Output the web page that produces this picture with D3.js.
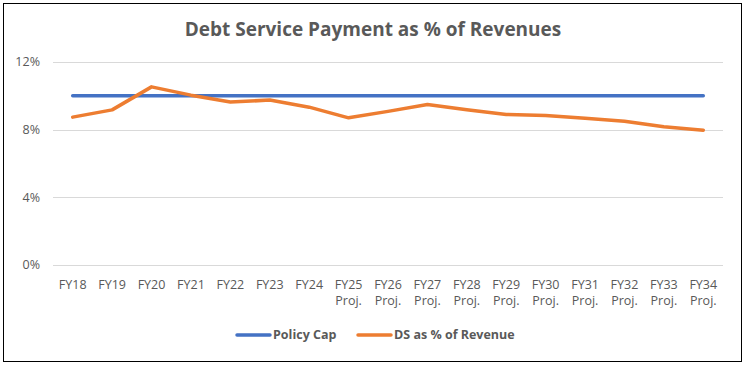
<!DOCTYPE html>
<html>
<head>
<meta charset="utf-8">
<script src="https://cdn.jsdelivr.net/npm/d3@7"></script>
<style>
  body { margin: 0; background: #fff; }
  text { font-family: "Open Sans", sans-serif; }
</style>
</head>
<body>
<div id="chart"></div>
<script>
let years = ["FY18","FY19","FY20","FY21","FY22","FY23","FY24","FY25","FY26","FY27","FY28","FY29","FY30","FY31","FY32","FY33","FY34"];
let projected = [false,false,false,false,false,false,false,true,true,true,true,true,true,true,true,true,true];
let policyCap = [10,10,10,10,10,10,10,10,10,10,10,10,10,10,10,10,10];
let dsRevenue = [8.74,9.17,10.53,10.04,9.63,9.75,9.33,8.70,9.08,9.49,9.18,8.90,8.84,8.68,8.50,8.17,7.97];
let yTicks = [0,4,8,12];

function config(){
    let width = 745, height = 365;
    let margin = { top: 62, left: 53, right: 22, bottom: 100 };
    let bodyWidth = width - margin.left - margin.right;
    let bodyHeight = 265 - margin.top;
    let svg = d3.select("#chart").append("svg")
        .attr("width", width).attr("height", height);
    svg.append("rect")
        .attr("x", 3.5).attr("y", 3.5)
        .attr("width", 738).attr("height", 358)
        .attr("fill", "#fff").attr("stroke", "#000").attr("stroke-width", 1);
    let container = svg.append("g")
        .attr("transform", "translate(" + [margin.left, margin.top] + ")");
    return { width, height, margin, bodyWidth, bodyHeight, svg, container };
}

function scales(cfg){
    let xScale = d3.scaleBand().domain(years).range([0, cfg.bodyWidth]);
    let yScale = d3.scaleLinear().domain([0, 12]).range([cfg.bodyHeight, 0]);
    return { xScale, yScale };
}

function draw(cfg, sc){
    let { container, bodyWidth, bodyHeight, svg } = cfg;
    let { xScale, yScale } = sc;

    // grid
    container.append("g")
        .selectAll("line").data(yTicks).enter().append("line")
        .attr("x1", 0).attr("x2", bodyWidth)
        .attr("y1", d => Math.round(yScale(d)) + 0.5)
        .attr("y2", d => Math.round(yScale(d)) + 0.5)
        .attr("stroke", "#d9d9d9").attr("stroke-width", 1);

    // y labels
    container.append("g")
        .selectAll("text").data(yTicks).enter().append("text")
        .attr("x", -13).attr("y", d => yScale(d))
        .attr("dy", "0.35em")
        .attr("text-anchor", "end")
        .style("font-size", "12.5px").style("fill", "#595959")
        .text(d => d + "%");

    // x labels
    let xl = container.append("g").selectAll("text").data(years).enter().append("text")
        .attr("x", d => xScale(d) + xScale.bandwidth() / 2)
        .attr("y", bodyHeight + 24)
        .attr("text-anchor", "middle")
        .style("font-size", "12.5px").style("fill", "#595959");
    xl.append("tspan").text(d => d);
    xl.filter((d, i) => projected[i]).append("tspan")
        .attr("x", d => xScale(d) + xScale.bandwidth() / 2)
        .attr("dy", 16).text("Proj.");

    let line = d3.line()
        .x((d, i) => xScale(years[i]) + xScale.bandwidth() / 2)
        .y(d => yScale(d));

    container.append("path").datum(policyCap)
        .attr("d", line).attr("fill", "none")
        .attr("stroke", "#4472C4").attr("stroke-width", 3.5)
        .attr("stroke-linecap", "round");
    container.append("path").datum(dsRevenue)
        .attr("d", line).attr("fill", "none")
        .attr("stroke", "#ED7D31").attr("stroke-width", 3.5)
        .attr("stroke-linecap", "round").attr("stroke-linejoin", "round");

    // title
    svg.append("text")
        .attr("x", 373).attr("y", 36)
        .attr("text-anchor", "middle")
        .style("font-size", "19px").style("font-weight", "bold").style("fill", "#595959")
        .text("Debt Service Payment as % of Revenues");

    // legend
    let items = [
        { name: "Policy Cap", color: "#4472C4", x: 237 },
        { name: "DS as % of Revenue", color: "#ED7D31", x: 358 }
    ];
    let lg = svg.append("g").selectAll("g").data(items).enter().append("g");
    lg.append("line")
        .attr("x1", d => d.x).attr("x2", d => d.x + 33)
        .attr("y1", 335).attr("y2", 335)
        .attr("stroke", d => d.color).attr("stroke-width", 3.5)
        .attr("stroke-linecap", "round");
    lg.append("text")
        .attr("x", d => d.x + 36).attr("y", 335).attr("dy", "0.35em")
        .style("font-size", "12.5px").style("font-weight", "bold").style("fill", "#595959")
        .text(d => d.name);
}

let cfg = config();
let sc = scales(cfg);
draw(cfg, sc);
</script>
</body>
</html>
